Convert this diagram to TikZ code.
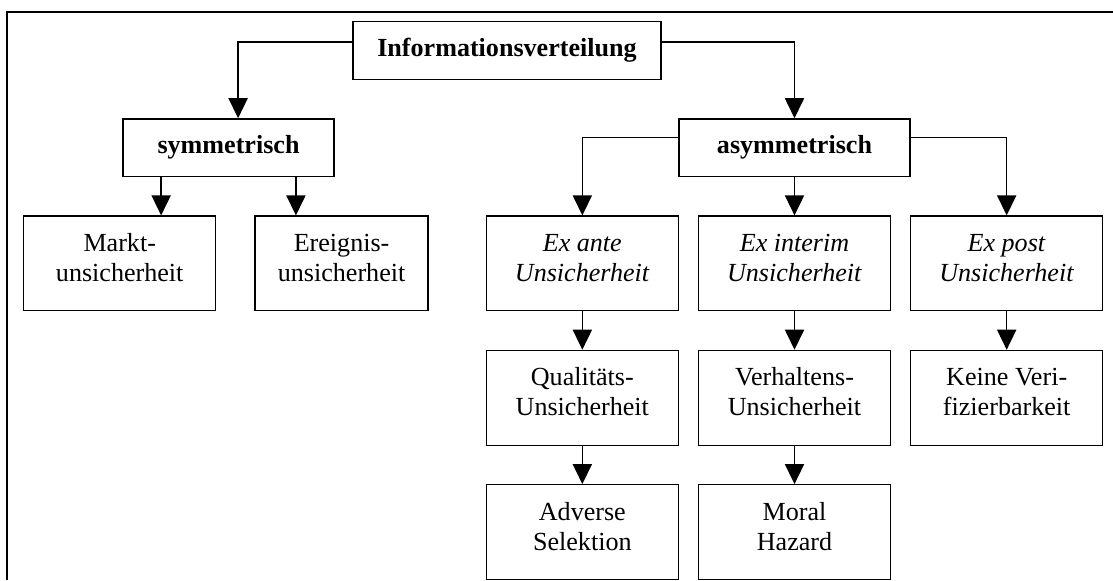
\documentclass[tikz,border=0pt]{standalone}
\usepackage{fontspec}
\setmainfont{Liberation Serif}
\usepackage{tikz}
\usetikzlibrary{arrows.meta,positioning}
\usepackage{xcolor}

\begin{document}
\begin{tikzpicture}[
        x=0.46pt, y=-0.46pt,
        % node distance: vertical, horizontal
            node distance=17.6pt and 8.7pt,
        % Kopfkaesten (fett, flach)
            headbox/.style={rectangle, draw, align=center, minimum height=26.5pt, inner sep=0pt, line width=0.6pt, font=\fontsize{12}{13.8}\selectfont\bfseries},
        % Kaesten mit zwei Zeilen
            box/.style={rectangle, draw, align=center, minimum width=88.3pt, minimum height=43.6pt, inner sep=0pt, text depth=5.5pt, line width=0.6pt, font=\fontsize{12}{13.8}\selectfont},
            arrow/.style={-{Triangle[length=9.2pt,width=8.8pt]}, line width=0.6pt}
        ]
            \useasboundingbox (0,0) rectangle (1113,580);
            % --- RAHMEN ---
            \draw[line width=0.6pt] (1113,12) -- (7,12) -- (7,580);

            % --- OBEN ---
            \node[headbox, minimum width=141.7pt] (info) at (507,50.5) {Informationsverteilung};
            \node[headbox, minimum width=97pt, below=of info, xshift=-128.1pt] (sym) {symmetrisch};
            \node[headbox, minimum width=106.3pt, below=of info, xshift=132.25pt] (asym) {asymmetrisch};

            % --- ASYMMETRISCH ---
            \node[box, below=of asym] (interim) {\textit{Ex interim}\\ \textit{Unsicherheit}};
            \node[box, left=of interim] (exante) {\textit{Ex ante}\\ \textit{Unsicherheit}};
            \node[box, right=of interim] (expost) {\textit{Ex post}\\ \textit{Unsicherheit}};
            \node[box, below=of exante] (qual) {Qualitäts-\\ Unsicherheit};
            \node[box, below=of interim] (verh) {Verhaltens-\\ Unsicherheit};
            \node[box, below=of expost] (keine) {Keine Veri-\\ fizierbarkeit};
            \node[box, below=of qual] (adverse) {Adverse\\ Selektion};
            \node[box, below=of verh] (moral) {Moral\\ Hazard};

            % --- SYMMETRISCH ---
            \node[box, minimum width=79.6pt, left=26.2pt of exante] (ereig) {Ereignis-\\ unsicherheit};
            \node[box, left=17.5pt of ereig] (markt) {Markt-\\ unsicherheit};

            % --- VERBINDUNGEN ---
            \draw[arrow] ([yshift=3.9pt]info.west) -| ([xshift=4.4pt]sym.north);
            \draw[arrow] ([yshift=3.9pt]info.east) -| (asym.north);

            \draw[arrow] ([xshift=-31pt]sym.south) -- ([xshift=-31pt]sym.south |- markt.north);
            \draw[arrow] ([xshift=31pt]sym.south) -- ([xshift=31pt]sym.south |- ereig.north);

            \draw[arrow] ([yshift=4.6pt]asym.west) -| (exante.north);
            \draw[arrow] (asym) -- (interim);
            \draw[arrow] ([yshift=4.6pt]asym.east) -| (expost.north);

            \draw[arrow] (exante) -- (qual);
            \draw[arrow] (qual) -- (adverse);
            \draw[arrow] (interim) -- (verh);
            \draw[arrow] (verh) -- (moral);
            \draw[arrow] (expost) -- (keine);
        \end{tikzpicture}
\end{document}
